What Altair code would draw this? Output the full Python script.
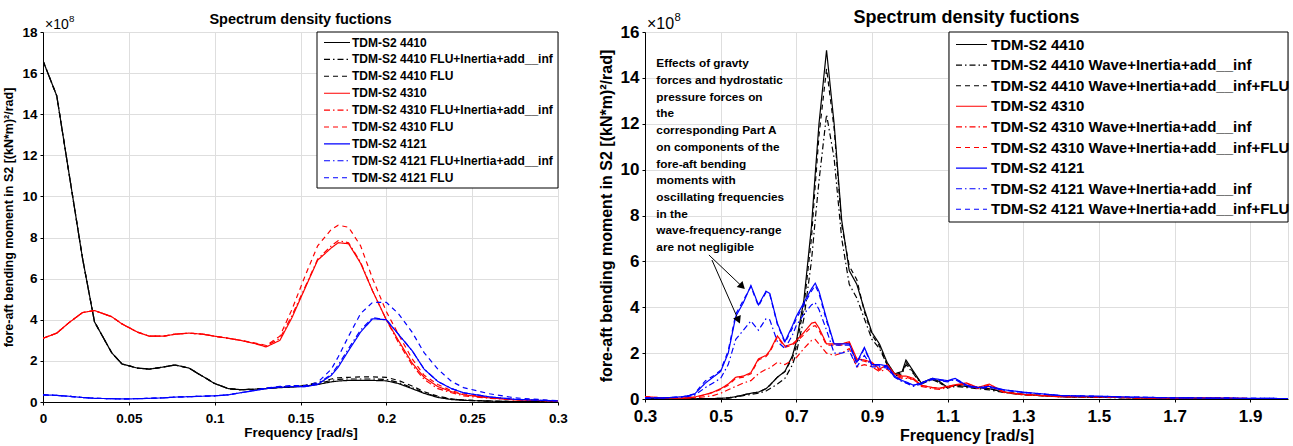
import altair as alt
import pandas as pd

FONT = "Liberation Sans"

# ---------------- Left panel data (values in 1e8 units) ----------------
freq_L = [0, 0.008, 0.015, 0.023, 0.03, 0.04, 0.046, 0.055, 0.062, 0.07,
          0.077, 0.085, 0.093, 0.1, 0.108, 0.115, 0.123, 0.13, 0.138, 0.145,
          0.153, 0.16, 0.168, 0.172, 0.178, 0.185, 0.192, 0.2, 0.207, 0.215,
          0.222, 0.23, 0.238, 0.245, 0.26, 0.275, 0.3]

k_L = [16.6, 14.9, 11.2, 7.0, 3.9, 2.4, 1.85, 1.65, 1.6, 1.7,
       1.8, 1.65, 1.25, 0.9, 0.65, 0.6, 0.62, 0.65, 0.7, 0.72,
       0.78, 0.85, 0.98, 1.02, 1.05, 1.05, 1.05, 1.03, 0.9, 0.65,
       0.42, 0.22, 0.12, 0.08, 0.04, 0.02, 0.01]
k_dd_L = [16.6, 14.9, 11.2, 7.0, 3.9, 2.4, 1.85, 1.65, 1.6, 1.7,
          1.8, 1.65, 1.25, 0.9, 0.65, 0.6, 0.62, 0.66, 0.71, 0.74,
          0.8, 0.9, 1.05, 1.1, 1.12, 1.12, 1.12, 1.1, 0.95, 0.7,
          0.45, 0.25, 0.14, 0.09, 0.04, 0.02, 0.01]
k_d_L = [16.6, 14.9, 11.2, 7.0, 3.9, 2.4, 1.85, 1.65, 1.6, 1.7,
         1.8, 1.65, 1.25, 0.9, 0.65, 0.6, 0.62, 0.67, 0.72, 0.76,
         0.82, 0.95, 1.12, 1.18, 1.2, 1.22, 1.22, 1.2, 1.05, 0.78,
         0.5, 0.28, 0.15, 0.1, 0.05, 0.02, 0.01]

r_L = [3.1, 3.35, 3.85, 4.35, 4.45, 4.15, 3.8, 3.4, 3.2, 3.2,
       3.3, 3.35, 3.3, 3.2, 3.1, 3.0, 2.85, 2.68, 3.0, 4.1,
       5.6, 6.9, 7.5, 7.75, 7.7, 6.75, 5.4, 4.0, 3.0, 1.9,
       1.2, 0.75, 0.5, 0.35, 0.2, 0.1, 0.05]
r_dd_L = [3.1, 3.35, 3.85, 4.35, 4.45, 4.15, 3.8, 3.4, 3.2, 3.2,
          3.3, 3.35, 3.3, 3.2, 3.1, 3.0, 2.86, 2.72, 3.1, 4.2,
          5.65, 6.95, 7.6, 7.85, 7.75, 6.8, 5.4, 4.0, 2.9, 1.8,
          1.1, 0.65, 0.45, 0.3, 0.18, 0.1, 0.05]
r_d_L = [3.1, 3.35, 3.85, 4.35, 4.45, 4.15, 3.8, 3.4, 3.2, 3.2,
         3.3, 3.35, 3.3, 3.2, 3.1, 3.0, 2.88, 2.75, 3.2, 4.5,
         6.2, 7.6, 8.4, 8.6, 8.5, 7.6, 6.0, 4.4, 3.3, 2.1,
         1.3, 0.85, 0.55, 0.4, 0.22, 0.12, 0.06]

b_L = [0.35, 0.32, 0.28, 0.22, 0.18, 0.16, 0.15, 0.16, 0.18, 0.2,
       0.24, 0.26, 0.28, 0.3, 0.35, 0.45, 0.55, 0.65, 0.72, 0.75,
       0.75, 0.85, 1.3, 1.7, 2.5, 3.4, 4.05, 4.0, 3.3, 2.5,
       1.6, 1.0, 0.65, 0.45, 0.25, 0.13, 0.05]
b_dd_L = [0.35, 0.32, 0.28, 0.22, 0.18, 0.16, 0.15, 0.16, 0.18, 0.2,
          0.24, 0.26, 0.28, 0.3, 0.35, 0.45, 0.56, 0.67, 0.74, 0.77,
          0.75, 0.88, 1.35, 1.8, 2.6, 3.5, 4.1, 4.0, 3.3, 2.5,
          1.6, 1.0, 0.65, 0.45, 0.25, 0.13, 0.05]
b_d_L = [0.35, 0.32, 0.28, 0.22, 0.18, 0.16, 0.15, 0.16, 0.18, 0.2,
         0.24, 0.26, 0.28, 0.3, 0.35, 0.45, 0.57, 0.68, 0.76, 0.8,
         0.8, 0.95, 1.6, 2.2, 3.2, 4.3, 4.85, 4.85, 4.3, 3.4,
         2.4, 1.6, 1.0, 0.7, 0.4, 0.2, 0.06]

names_L = ["TDM-S2 4410", "TDM-S2 4410 FLU+Inertia+add__inf", "TDM-S2 4410 FLU",
           "TDM-S2 4310", "TDM-S2 4310 FLU+Inertia+add__inf", "TDM-S2 4310 FLU",
           "TDM-S2 4121", "TDM-S2 4121 FLU+Inertia+add__inf", "TDM-S2 4121 FLU"]
series_L = [k_L, k_dd_L, k_d_L, r_L, r_dd_L, r_d_L, b_L, b_dd_L, b_d_L]

# ---------------- Right panel data (values in 1e8 units) ----------------
freq_R = [0.30, 0.35, 0.40, 0.43, 0.46, 0.48, 0.50, 0.52, 0.54, 0.56,
          0.58, 0.60, 0.62, 0.63, 0.65, 0.67, 0.69, 0.70, 0.72, 0.74,
          0.75, 0.76, 0.78, 0.80, 0.82, 0.84, 0.86, 0.88, 0.90, 0.92,
          0.94, 0.96, 0.98, 0.99, 1.01, 1.03, 1.06, 1.08, 1.10, 1.12,
          1.15, 1.18, 1.21, 1.25, 1.30, 1.40, 1.50, 1.60, 1.70, 1.80,
          1.90, 2.00]

k_R = [0.02, 0.01, 0.01, 0.01, 0.02, 0.02, 0.03, 0.05, 0.10, 0.18,
       0.25, 0.30, 0.45, 0.60, 0.95, 1.20, 1.90, 2.50, 4.30, 7.50,
       9.80, 12.0, 15.2, 12.0, 7.8, 5.6, 5.0, 3.9, 2.9, 2.4,
       1.6, 1.1, 1.2, 1.7, 1.2, 0.7, 0.9, 0.75, 0.5, 0.6,
       0.55, 0.5, 0.45, 0.3, 0.2, 0.1, 0.08, 0.05, 0.03, 0.02,
       0.02, 0.01]
k_dd_R = [0.01, 0.01, 0.01, 0.01, 0.01, 0.02, 0.02, 0.04, 0.08, 0.15,
          0.2, 0.25, 0.35, 0.45, 0.65, 0.9, 1.5, 2.0, 3.5, 6.0,
          7.8, 9.5, 12.4, 10.5, 7.0, 5.0, 4.4, 3.5, 2.6, 2.2,
          1.5, 1.0, 1.1, 1.5, 1.1, 0.65, 0.85, 0.7, 0.48, 0.55,
          0.5, 0.45, 0.4, 0.28, 0.18, 0.1, 0.07, 0.05, 0.03, 0.02,
          0.02, 0.01]
k_d_R = [0.02, 0.01, 0.01, 0.01, 0.02, 0.02, 0.03, 0.05, 0.10, 0.18,
         0.25, 0.30, 0.45, 0.60, 0.95, 1.20, 1.80, 2.30, 4.00, 7.00,
         9.3, 11.5, 14.4, 11.8, 7.6, 5.8, 5.2, 3.8, 2.8, 2.3,
         1.5, 1.05, 1.15, 1.6, 1.15, 0.7, 0.85, 0.7, 0.5, 0.6,
         0.55, 0.5, 0.45, 0.3, 0.2, 0.1, 0.08, 0.05, 0.03, 0.02,
         0.02, 0.01]

r_R = [0.1, 0.05, 0.04, 0.08, 0.2, 0.3, 0.45, 0.65, 0.95, 1.0,
       1.15, 1.75, 1.9, 2.1, 2.75, 2.3, 2.4, 2.55, 2.9, 3.3,
       3.35, 3.1, 2.4, 2.4, 2.4, 2.5, 1.75, 1.7, 1.6, 1.3,
       1.5, 1.1, 1.0, 1.0, 0.9, 0.6, 0.5, 0.47, 0.55, 0.62,
       0.7, 0.5, 0.65, 0.3, 0.2, 0.1, 0.1, 0.05, 0.03, 0.05,
       0.02, 0.01]
r_dd_R = [0.08, 0.04, 0.03, 0.05, 0.1, 0.15, 0.25, 0.4, 0.55, 0.7,
          0.8, 1.1, 1.3, 1.35, 1.6, 1.5, 1.7, 1.8, 2.2, 2.55,
          2.6, 2.4, 2.0, 1.9, 2.0, 2.2, 1.4, 1.5, 1.4, 1.2,
          1.3, 1.0, 0.9, 0.9, 0.85, 0.55, 0.45, 0.42, 0.5, 0.58,
          0.65, 0.45, 0.55, 0.28, 0.18, 0.1, 0.08, 0.05, 0.03, 0.04,
          0.02, 0.01]
r_d_R = [0.1, 0.05, 0.04, 0.08, 0.18, 0.28, 0.42, 0.6, 0.9, 0.95,
         1.1, 1.7, 1.85, 2.05, 2.7, 2.25, 2.35, 2.5, 2.8, 3.15,
         3.2, 3.0, 2.35, 2.35, 2.35, 2.45, 1.7, 1.65, 1.55, 1.25,
         1.45, 1.05, 0.95, 0.95, 0.85, 0.6, 0.5, 0.47, 0.55, 0.6,
         0.68, 0.5, 0.6, 0.3, 0.2, 0.1, 0.1, 0.05, 0.03, 0.05,
         0.02, 0.01]

b_R = [0.05, 0.05, 0.1, 0.2, 0.7, 0.95, 1.2, 2.0, 3.6, 4.2,
       4.95, 4.1, 4.7, 4.6, 3.3, 2.5, 3.2, 3.6, 4.2, 4.8,
       5.05, 4.7, 3.5, 2.4, 2.4, 2.4, 1.6, 2.25, 1.5, 1.5,
       1.45, 1.0, 0.8, 0.75, 0.6, 0.7, 0.9, 0.85, 0.8, 0.9,
       0.6, 0.5, 0.55, 0.4, 0.3, 0.15, 0.12, 0.08, 0.05, 0.04,
       0.03, 0.02]
b_dd_R = [0.04, 0.04, 0.08, 0.15, 0.5, 0.7, 0.9, 1.5, 2.6, 3.0,
          3.4, 3.0, 3.5, 3.45, 2.5, 2.2, 2.8, 3.2, 3.7, 4.1,
          4.2, 3.9, 3.0, 2.0, 2.0, 2.1, 1.4, 1.9, 1.4, 1.4,
          1.35, 0.95, 0.75, 0.7, 0.55, 0.65, 0.85, 0.8, 0.75, 0.85,
          0.55, 0.48, 0.5, 0.38, 0.28, 0.15, 0.1, 0.07, 0.05, 0.04,
          0.03, 0.02]
b_d_R = [0.05, 0.05, 0.1, 0.22, 0.8, 1.0, 1.25, 2.1, 3.7, 4.3,
         4.9, 4.05, 4.65, 4.55, 3.25, 2.45, 3.1, 3.5, 4.1, 4.7,
         4.95, 4.6, 3.4, 2.35, 2.35, 2.35, 1.55, 2.2, 1.45, 1.45,
         1.4, 0.95, 0.8, 0.7, 0.6, 0.68, 0.88, 0.82, 0.78, 0.88,
         0.6, 0.5, 0.5, 0.4, 0.28, 0.15, 0.12, 0.08, 0.05, 0.04,
         0.03, 0.02]

names_R = ["TDM-S2 4410", "TDM-S2 4410 Wave+Inertia+add__inf", "TDM-S2 4410 Wave+Inertia+add__inf+FLU",
           "TDM-S2 4310", "TDM-S2 4310 Wave+Inertia+add__inf", "TDM-S2 4310 Wave+Inertia+add__inf+FLU",
           "TDM-S2 4121", "TDM-S2 4121 Wave+Inertia+add__inf", "TDM-S2 4121 Wave+Inertia+add__inf+FLU"]
series_R = [k_R, k_dd_R, k_d_R, r_R, r_dd_R, r_d_R, b_R, b_dd_R, b_d_R]

note_lines = ["Effects of gravty", "forces and hydrostatic", "pressure forces on", "the",
              "corresponding Part A", "on components of the", "fore-aft bending",
              "moments with", "oscillating frequencies", "in the",
              "wave-frequency-range", "are not negligible"]
# arrows: start (freq, value) -> tip (freq, value)
arrow_x = [0.469, 0.477]
arrow_y = [6.28, 6.06]
arrow_x2 = [0.557, 0.547]
arrow_y2 = [4.9, 3.44]
arrow_angle = [44, 66]

colors = ["#000000"] * 3 + ["#ff0000"] * 3 + ["#0000ff"] * 3
dashes = [[1, 0], [6, 3, 1.5, 3], [5, 4]] * 3

TITLE = "Spectrum density fuctions"
YTITLE = "fore-aft bending moment in S2 [(kN*m)²/rad]"
ONE = pd.DataFrame({"k": [0]})


def make_df(freq, series, names):
    rows = []
    for name, vals in zip(names, series):
        for f, v in zip(freq, vals):
            rows.append({"freq": f, "val": v, "series": name})
    return pd.DataFrame(rows)


def panel(df, names, xdom, xticks, ydom, yticks, w, h, fs_lab, fs_xt, fs_yt, fs_head,
          head_y, exp_fs, leg, xpad):
    xaxis = alt.Axis(values=xticks, format="~g", title="Frequency [rad/s]", labelFlush=False,
                     labelFont=FONT, labelFontSize=fs_lab, labelFontWeight="bold",
                     labelColor="black", titleFont=FONT, titleFontSize=fs_xt,
                     titleFontWeight="bold", titleColor="black", grid=True,
                     gridColor="#dedede", domainColor="black", tickColor="black",
                     tickSize=3, labelPadding=xpad[0], titlePadding=xpad[1],
                     labelOverlap=False)
    yaxis = alt.Axis(values=yticks, title=YTITLE, labelFont=FONT, labelFontSize=fs_lab,
                     labelFontWeight="bold", labelColor="black", titleFont=FONT,
                     titleFontSize=fs_yt, titleFontWeight="bold", titleColor="black",
                     grid=True, gridColor="#dedede", domainColor="black",
                     tickColor="black", tickSize=3, labelPadding=3, titlePadding=6,
                     labelOverlap=False)
    lines = alt.Chart(df).mark_line(strokeWidth=1.2, clip=True).encode(
        x=alt.X("freq:Q", scale=alt.Scale(domain=xdom, nice=False, zero=False), axis=xaxis),
        y=alt.Y("val:Q", scale=alt.Scale(domain=ydom, nice=False), axis=yaxis),
        color=alt.Color("series:N", scale=alt.Scale(domain=names, range=colors), legend=None),
        strokeDash=alt.StrokeDash("series:N", scale=alt.Scale(domain=names, range=dashes),
                                  legend=None),
    )
    layers = [lines]
    # title and exponent label as text marks
    layers.append(alt.Chart(ONE).mark_text(
        text=TITLE, font=FONT, fontSize=fs_head, fontWeight="bold", color="black",
        align="center", baseline="middle").encode(x=alt.value(w / 2), y=alt.value(head_y)))
    layers.append(alt.Chart(ONE).mark_text(
        text="×10", font=FONT, fontSize=exp_fs, align="left", baseline="alphabetic",
        color="black").encode(x=alt.value(2), y=alt.value(-3)))
    layers.append(alt.Chart(ONE).mark_text(
        text="8", font=FONT, fontSize=exp_fs * 0.7, align="left", baseline="alphabetic",
        color="black").encode(x=alt.value(2 + exp_fs * 1.72), y=alt.value(-3 - exp_fs * 0.5)))
    # legend box
    bx0, by1, sx0, slen, tx, ry0, rstep, lfs = leg
    layers.append(alt.Chart(ONE).mark_rect(fill="white", stroke="black", strokeWidth=1).encode(
        x=alt.value(bx0), x2=alt.value(w), y=alt.value(0), y2=alt.value(by1)))
    for i, name in enumerate(names):
        yy = ry0 + i * rstep
        layers.append(alt.Chart(ONE).mark_rule(
            color=colors[i], strokeDash=dashes[i], strokeWidth=1.1).encode(
            x=alt.value(sx0), x2=alt.value(sx0 + slen), y=alt.value(yy)))
        layers.append(alt.Chart(ONE).mark_text(
            text=name, font=FONT, fontSize=lfs, fontWeight="bold", color="black",
            align="left", baseline="middle").encode(x=alt.value(tx), y=alt.value(yy)))
    return layers


df_L = make_df(freq_L, series_L, names_L)
df_R = make_df(freq_R, series_R, names_R)

layers_L = panel(df_L, names_L, [0, 0.3], [0, 0.05, 0.1, 0.15, 0.2, 0.25, 0.3],
                 [0, 18], list(range(0, 19, 2)), 515, 370, 13.5, 13.5, 12.5, 14.5, -12, 14,
                 (274, 156, 281, 26, 309, 10.5, 16.9, 12), (6, 1))
layers_R = panel(df_R, names_R, [0.3, 2.0], [0.3, 0.5, 0.7, 0.9, 1.1, 1.3, 1.5, 1.7, 1.9],
                 [0, 16], list(range(0, 17, 2)), 643, 367, 17, 16, 16, 18, -14, 16,
                 (304, 190, 311, 31, 346, 12.5, 20.6, 15), (6, 3))

note = alt.Chart(pd.DataFrame({"x": [0.33], "y": [14.85], "t": ["\n".join(note_lines)]})).mark_text(
    font=FONT, fontSize=11.8, fontWeight="bold", align="left", baseline="top",
    lineBreak="\n", lineHeight=16.7, color="black"
).encode(x="x:Q", y="y:Q", text="t:N")

arr_df = pd.DataFrame({"x": arrow_x, "y": arrow_y, "x2": arrow_x2, "y2": arrow_y2,
                       "a": arrow_angle})
arr_lines = alt.Chart(arr_df).mark_rule(color="black", strokeWidth=1).encode(
    x="x:Q", y="y:Q", x2="x2:Q", y2="y2:Q")
arr_heads = alt.Chart(arr_df).mark_point(shape="triangle-right", filled=True, color="black",
                                         size=70, opacity=1).encode(
    x="x2:Q", y="y2:Q", angle=alt.Angle("a:Q", scale=None))

left = alt.layer(*layers_L).properties(width=515, height=370)
right = alt.layer(*layers_R, note, arr_lines, arr_heads).properties(width=643, height=367)

chart = alt.hconcat(left, right, spacing=87, bounds="flush").resolve_scale(
    color="independent", strokeDash="independent"
).properties(
    padding={"left": 2, "top": 8, "right": 0, "bottom": 0}
).configure_view(stroke="black", strokeWidth=1).configure(background="white")

chart.save("out.html", embed_options={"renderer": "svg", "actions": False})
